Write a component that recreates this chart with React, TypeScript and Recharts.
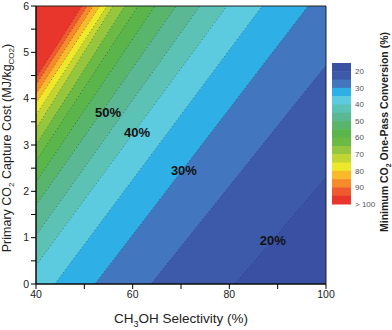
import { ComposedChart, Area, Line, Scatter, XAxis, YAxis, ReferenceArea, Label } from 'recharts'

// contour levels of minimum CO2 one-pass conversion (%)
const levels = [20, 25, 30, 35, 40, 45, 50, 55, 60, 65, 70, 75, 80, 85, 90, 95]
const bandColors = [
  '#3d5aaa', '#4277bf', '#2eb0e6', '#5ccbe0', '#5dc2b6', '#5bb894', '#59b56c', '#5ab54b',
  '#6bba46', '#95c63e', '#c2d532', '#eee82b', '#f8ba2a', '#f58b2b', '#ef5a2e', '#e8362d',
]
const baseColor = '#3a51a3'

const lineS1 = [81.2, 63.8, 52.2, 43.9, 40, 40, 40, 40, 40, 40, 40, 40, 40, 40, 40, 40]
const lineC1 = [0, 0, 0, 0, 0.4, 1.05, 1.7, 2.2, 2.65, 3.0, 3.35, 3.65, 3.9, 4.1, 4.3, 4.45]
const lineS2 = [100, 100, 96.3, 86.8, 79.5, 73.9, 69.0, 64.6, 61.1, 58.4, 55.9, 54.7, 53.2, 51.8, 50.6, 49.5]
const lineC2 = [2.3, 4.72, 6, 6, 6, 6, 6, 6, 6, 6, 6, 6, 6, 6, 6, 6]

// in-plot contour labels
const labelText = ['50%', '40%', '30%', '20%']
const labelS = [54.9, 60.9, 70.6, 89.0]
const labelC = [3.71, 3.28, 2.46, 0.95]

const xTicks = [40, 50, 60, 70, 80, 90, 100]
const yTicks = [0, 0.5, 1, 1.5, 2, 2.5, 3, 3.5, 4, 4.5, 5, 5.5, 6]
const barLabels = ['20', '30', '40', '50', '60', '70', '80', '90', '> 100']

// lines are straight, so two rows at the axis ends are enough
const rows = [40, 100].map((s) => {
  const row: Record<string, number | number[]> = { s }
  levels.forEach((lv, i) => {
    const c = lineC1[i] + ((s - lineS1[i]) * (lineC2[i] - lineC1[i])) / (lineS2[i] - lineS1[i])
    row[`b${lv}`] = [c, 60]
    row[`l${lv}`] = c
  })
  return row
})

const labelRows = labelText.map((t, i) => ({ s: labelS[i], c: labelC[i], t }))

const font = '"Liberation Sans", Arial, sans-serif'

function ColorBar() {
  const top = 63
  const h = 141 / (bandColors.length + 1)
  const colors = [baseColor, ...bandColors]
  return (
    <svg width={392} height={330} style={{ position: 'absolute', left: 0, top: 0, pointerEvents: 'none' }}>
      {colors.map((c, i) => (
        <rect key={i} x={332} y={top + i * h} width={19} height={h + 0.5} fill={c} />
      ))}
      {barLabels.map((t, i) => (
        <text key={t} x={355} y={top + (1 + 2 * i) * h} dy="0.35em" fontSize={8} fill="#555" fontFamily={font}>
          {t}
        </text>
      ))}
      <text
        x={388}
        y={132}
        transform="rotate(-90 388 132)"
        textAnchor="middle"
        fontSize={10.5}
        fontWeight="bold"
        fill="#222"
        fontFamily={font}
      >
        Minimum CO<tspan fontSize={7} dy={3}>2</tspan>
        <tspan dy={-3}> One-Pass Conversion (%)</tspan>
      </text>
    </svg>
  )
}

export default function App() {
  return (
    <div style={{ position: 'absolute', left: 0, top: 0, width: 392, height: 330, fontFamily: font }}>
      <ComposedChart width={392} height={330} data={rows} margin={{ top: 6, right: 66, bottom: 0, left: 0 }}>
        <XAxis
          dataKey="s"
          type="number"
          domain={[40, 100]}
          ticks={xTicks}
          interval={0}
          allowDataOverflow
          height={46}
          tickSize={5}
          tickFormatter={(v: number) => (v % 20 === 0 ? String(v) : '')}
          tick={{ fontSize: 10.5, fill: '#222' }}
          tickLine={{ stroke: '#000' }}
          axisLine={{ stroke: '#000' }}
        >
          <Label
            content={({ viewBox }: any) => (
              <text x={viewBox.x + viewBox.width / 2} y={323} textAnchor="middle" fontSize={13.5} fill="#222">
                CH<tspan fontSize={9} dy={4}>3</tspan>
                <tspan dy={-4}>OH Selectivity (%)</tspan>
              </text>
            )}
          />
        </XAxis>
        <YAxis
          type="number"
          domain={[0, 6]}
          ticks={yTicks}
          interval={0}
          allowDataOverflow
          width={36}
          tickSize={5}
          tickFormatter={(v: number) => (Number.isInteger(v) ? String(v) : '')}
          tick={{ fontSize: 10.5, fill: '#222' }}
          tickLine={{ stroke: '#000' }}
          axisLine={{ stroke: '#000' }}
        >
          <Label
            content={() => (
              <text x={11} y={148} transform="rotate(-90 11 148)" textAnchor="middle" fontSize={12.5} fill="#222">
                Primary CO<tspan fontSize={8} dy={3}>2</tspan>
                <tspan dy={-3}> Capture Cost (MJ/kg</tspan>
                <tspan fontSize={8} dy={3}>CO2</tspan>
                <tspan dy={-3}>)</tspan>
              </text>
            )}
          />
        </YAxis>
        <ReferenceArea x1={40} x2={100} y1={0} y2={6} fill={baseColor} fillOpacity={1} stroke="none" />
        {levels.map((lv, i) => (
          <Area
            key={`b${lv}`}
            dataKey={`b${lv}`}
            type="linear"
            fill={bandColors[i]}
            fillOpacity={1}
            stroke="none"
            activeDot={false}
            isAnimationActive={false}
          />
        ))}
        {levels.map((lv) => (
          <Line
            key={`l${lv}`}
            dataKey={`l${lv}`}
            type="linear"
            stroke="#1a1a1a"
            strokeOpacity={0.55}
            strokeWidth={0.8}
            strokeDasharray="1 2.5"
            dot={false}
            activeDot={false}
            isAnimationActive={false}
          />
        ))}
        <Scatter
          data={labelRows}
          dataKey="c"
          isAnimationActive={false}
          shape={(p: any) => (
            <text x={p.cx} y={p.cy} dy="0.35em" textAnchor="middle" fontSize={13} fontWeight="bold" fill="#111">
              {p.payload.t}
            </text>
          )}
        />
        <ReferenceArea x1={40} x2={100} y1={0} y2={6} fill="none" stroke="#222" strokeWidth={1} />
      </ComposedChart>
      <ColorBar />
    </div>
  )
}
